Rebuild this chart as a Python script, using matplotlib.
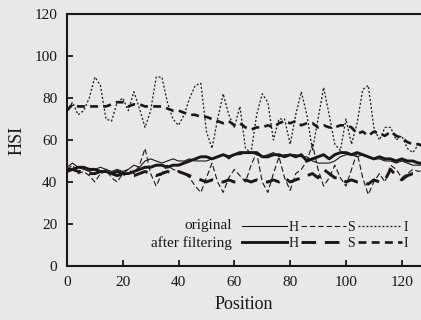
import numpy as np
import matplotlib
matplotlib.use("Agg")
import matplotlib.pyplot as plt

# position along the profile (step 2)
position = np.arange(0, 130, 2)

# original signals
H_orig = [47, 49, 47, 46, 45, 46, 47, 46, 45, 46, 45, 46, 48, 47, 50, 51, 50, 49, 50, 51,
          50, 50, 51, 50, 50, 50, 51, 52, 53, 51, 53, 53, 54, 54, 53, 52, 53, 54, 52, 53,
          53, 53, 52, 52, 50, 49, 49, 49, 50, 52, 53, 53, 52, 53, 52, 51, 51, 50, 50, 49,
          50, 49, 48, 48, 48]
S_orig = [46, 48, 44, 45, 43, 40, 44, 46, 42, 40, 44, 46, 44, 48, 56, 44, 38, 44, 48, 46,
          45, 44, 42, 38, 35, 42, 49, 40, 35, 42, 46, 43, 40, 48, 54, 40, 35, 44, 52, 42,
          36, 44, 46, 50, 58, 46, 38, 42, 48, 42, 38, 46, 54, 42, 34, 40, 44, 40, 48, 46,
          42, 44, 46, 45, 46]
I_orig = [74, 78, 72, 74, 80, 90, 86, 70, 69, 78, 80, 74, 83, 75, 66, 74, 90, 90, 78, 70,
          67, 72, 80, 86, 87, 64, 56, 70, 82, 72, 66, 76, 56, 54, 72, 82, 78, 60, 70, 70,
          58, 72, 83, 72, 55, 70, 85, 72, 58, 55, 70, 58, 68, 84, 86, 66, 60, 66, 66, 60,
          62, 56, 54, 58, 56]

# after filtering
H_filt = [46, 46, 47, 47, 46, 46, 45, 45, 44, 45, 44, 44, 45, 46, 47, 47, 48, 48, 47, 48,
          48, 49, 50, 51, 52, 52, 51, 52, 53, 52, 53, 54, 54, 54, 54, 52, 52, 53, 53, 52,
          53, 52, 53, 50, 51, 52, 53, 51, 53, 54, 54, 53, 54, 53, 52, 51, 52, 51, 51, 50,
          51, 50, 50, 49, 49]
S_filt = [45, 46, 45, 45, 44, 44, 45, 44, 44, 43, 44, 43, 43, 44, 45, 44, 43, 44, 45, 44,
          45, 44, 43, 42, 41, 40, 41, 40, 40, 41, 40, 40, 41, 40, 41, 40, 40, 41, 40, 42,
          40, 41, 42, 43, 44, 42, 46, 44, 42, 42, 40, 41, 40, 40, 39, 41, 40, 41, 46, 43,
          41, 43, 44, 44, 45]
I_filt = [74, 77, 76, 76, 76, 76, 76, 76, 77, 78, 78, 76, 77, 77, 76, 76, 76, 76, 75, 74,
          74, 73, 72, 72, 71, 71, 70, 69, 68, 69, 67, 68, 66, 65, 66, 66, 67, 66, 68, 69,
          68, 69, 67, 68, 68, 66, 67, 66, 66, 67, 67, 66, 63, 64, 62, 64, 63, 62, 64, 62,
          61, 59, 58, 58, 57]

plt.rcParams['font.family'] = ['Liberation Serif', 'DejaVu Serif']
ink = '#1c1616'
paper = '#e8e8e6'

fig = plt.figure(figsize=(4.21, 3.2), dpi=100, facecolor=paper)
ax = fig.add_axes([0.159, 0.169, 0.841, 0.787], facecolor=paper)

ax.plot(position, H_orig, color=ink, lw=0.8, label='H')
ax.plot(position, H_filt, color=ink, lw=2.1, label='H')
ax.plot(position, S_orig, color=ink, lw=0.8, dashes=(5, 2.5), label='S')
ax.plot(position, S_filt, color=ink, lw=2.1, dashes=(5, 3), label='S')
ax.plot(position, I_orig, color=ink, lw=0.9, dashes=(1.6, 1.6), label='I')
ax.plot(position, I_filt, color=ink, lw=1.9, dashes=(3, 2), label='I')

ax.set_xlim(0, 126.9)
ax.set_ylim(0, 120)
ax.set_xticks(range(0, 121, 20))
ax.set_yticks(range(0, 121, 20))
ax.tick_params(direction='in', length=4, width=1.3, labelsize=11, colors=ink, pad=7)
for side in ['left', 'bottom', 'top']:
    ax.spines[side].set_linewidth(1.5)
    ax.spines[side].set_color(ink)
ax.spines['right'].set_visible(False)

ax.set_xlabel('Position', fontsize=13, color=ink, labelpad=5)
ax.set_ylabel('HSI', fontsize=13, color=ink, labelpad=6)

leg = ax.legend(ncol=3, loc='lower left', bbox_to_anchor=(0.48, 0.042),
                frameon=False, fontsize=10, handlelength=3.2, handletextpad=0.1,
                columnspacing=0.2, labelspacing=0.22, borderaxespad=0)
for t in leg.get_texts():
    t.set_color(ink)
ax.text(0.465, 0.159, 'original', transform=ax.transAxes, ha='right', va='center',
        fontsize=11, color=ink)
ax.text(0.465, 0.091, 'after filtering', transform=ax.transAxes, ha='right', va='center',
        fontsize=11, color=ink)

fig.savefig('out.png', dpi=100, facecolor=paper)
